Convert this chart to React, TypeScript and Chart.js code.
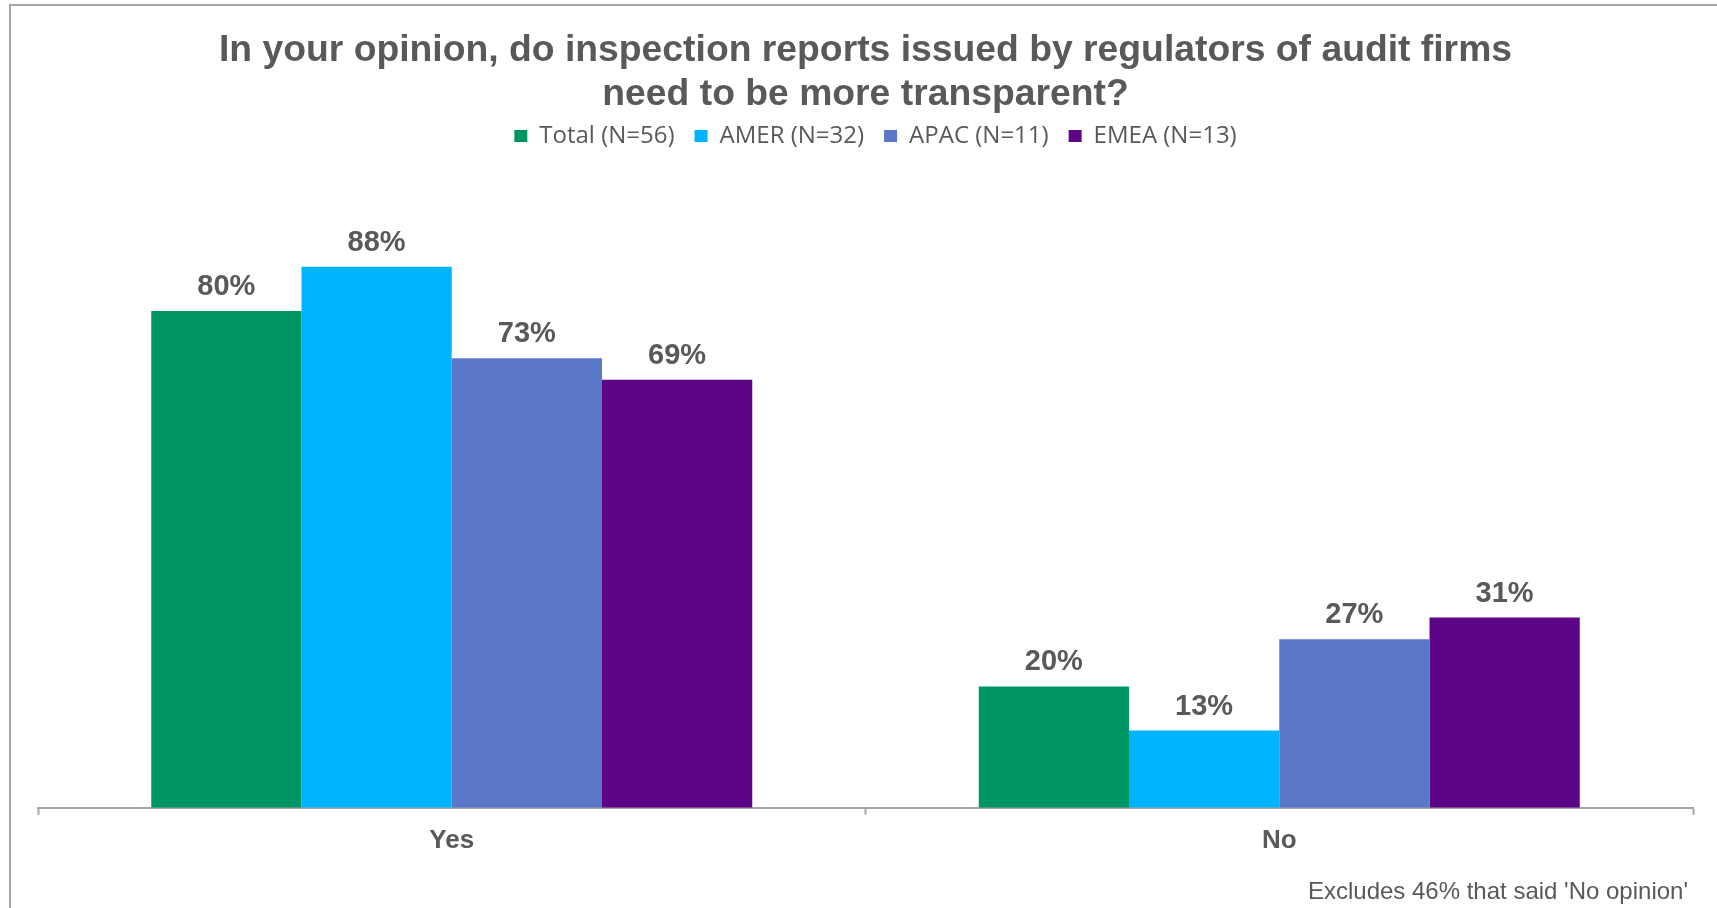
import React, { useEffect, useRef } from 'react';
import { Chart, registerables } from 'chart.js';

Chart.register(...registerables);

const TITLE_LINES = [
  'In your opinion, do inspection reports issued by regulators of audit firms',
  'need to be more transparent?',
];
const CATEGORIES = ['Yes', 'No'];
const SERIES_NAMES = ['Total (N=56)', 'AMER (N=32)', 'APAC (N=11)', 'EMEA (N=13)'];
const TOTAL_VALUES = [80.36, 19.64];
const AMER_VALUES = [87.5, 12.5];
const APAC_VALUES = [72.73, 27.27];
const EMEA_VALUES = [69.23, 30.77];
const SERIES_COLORS = ['#009663', '#00B4FF', '#5B77C9', '#5C0587'];
const FOOTNOTE = "Excludes 46% that said 'No opinion'";

const FONT = '"Liberation Sans", Arial, sans-serif';
const TEXT_GRAY = '#595959';

const valueLabels = {
  id: 'valueLabels',
  afterDatasetsDraw(chart: any) {
    const ctx = chart.ctx;
    ctx.save();
    ctx.font = `bold 29px ${FONT}`;
    ctx.fillStyle = TEXT_GRAY;
    ctx.textAlign = 'center';
    ctx.textBaseline = 'alphabetic';
    chart.data.datasets.forEach((ds: any, i: number) => {
      const meta = chart.getDatasetMeta(i);
      meta.data.forEach((el: any, j: number) => {
        const v = ds.data[j];
        ctx.fillText(`${Math.round(v)}%`, el.x, el.y - 16);
      });
    });
    ctx.restore();
  },
};

const footnote = {
  id: 'footnote',
  afterDraw(chart: any) {
    const ctx = chart.ctx;
    ctx.save();
    ctx.font = `24px ${FONT}`;
    ctx.fillStyle = TEXT_GRAY;
    ctx.textAlign = 'right';
    ctx.textBaseline = 'alphabetic';
    ctx.fillText(FOOTNOTE, chart.chartArea.right - 5, 899);
    ctx.restore();
  },
};

// nudge the legend block slightly to the right, as in the reference
const legendShift = {
  id: 'legendShift',
  afterLayout(chart: any) {
    const lg = chart.legend;
    if (lg) {
      lg.left += 10;
      lg.right += 10;
    }
  },
};

export default function App() {
  const canvasRef = useRef<HTMLCanvasElement | null>(null);

  useEffect(() => {
    if (!canvasRef.current) return;
    const seriesValues = [TOTAL_VALUES, AMER_VALUES, APAC_VALUES, EMEA_VALUES];
    const chart = new Chart(canvasRef.current, {
      type: 'bar',
      data: {
        labels: CATEGORIES,
        datasets: SERIES_NAMES.map((name, i) => ({
          label: name,
          data: seriesValues[i],
          backgroundColor: SERIES_COLORS[i],
          borderWidth: 0,
          categoryPercentage: 0.7263,
          barPercentage: 1,
        })),
      },
      options: {
        animation: false,
        responsive: false,
        devicePixelRatio: 1,
        layout: { padding: { top: 0, left: 38, right: 24, bottom: 42 } },
        plugins: {
          title: {
            display: true,
            text: TITLE_LINES,
            color: TEXT_GRAY,
            font: { family: FONT, size: 37.3, weight: 'bold', lineHeight: 1.2 },
            padding: { top: 28, bottom: -13.5 },
          },
          legend: {
            display: true,
            position: 'top',
            labels: {
              color: TEXT_GRAY,
              font: { family: '"Open Sans", sans-serif', size: 24 },
              boxWidth: 13,
              boxHeight: 12,
              padding: 20,
            },
          },
          tooltip: { enabled: false },
        },
        scales: {
          x: {
            grid: {
              display: true,
              drawOnChartArea: false,
              drawTicks: true,
              tickLength: 7,
              tickColor: '#A6A6A6',
              tickWidth: 2,
            },
            border: { display: true, color: '#A6A6A6', width: 2 },
            ticks: {
              color: TEXT_GRAY,
              font: { family: FONT, size: 26, weight: 'bold', lineHeight: 1.2 },
              padding: 10,
            },
          },
          y: {
            display: false,
            min: 0,
            max: 105.1,
          },
        },
      },
      plugins: [valueLabels, footnote, legendShift],
    } as any);
    return () => chart.destroy();
  }, []);

  return (
    <div
      style={{
        position: 'fixed',
        left: 0,
        top: 0,
        width: 1717,
        height: 908,
        overflow: 'hidden',
        background: '#ffffff',
      }}
    >
      <div
        style={{
          position: 'absolute',
          left: 9,
          top: 4,
          width: 1800,
          height: 1000,
          borderLeft: '2px solid #A6A6A6',
          borderTop: '2px solid #A6A6A6',
        }}
      />
      <canvas
        ref={canvasRef}
        width={1717}
        height={908}
        style={{ position: 'absolute', left: 0, top: 0, width: 1717, height: 908 }}
      />
    </div>
  );
}
